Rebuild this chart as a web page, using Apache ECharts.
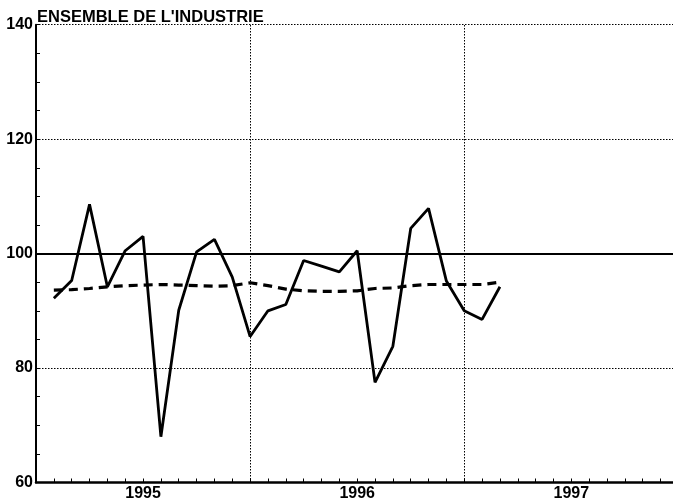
<!DOCTYPE html>
<html><head><meta charset="utf-8">
<script src="https://cdn.jsdelivr.net/npm/echarts@6/dist/echarts.min.js"></script>
<style>html,body{margin:0;padding:0;background:#fff}#c{width:673px;height:504px}</style>
</head><body><div id="c"></div>
<script>
// months counted from start of 1995 (1 = first point)
const months = [1,2,3,4,5,6,7,8,9,10,11,12,13,14,15,16,17,18,19,20,21,22,23,24,25,26];
const production = [92.2,95.3,108.6,94.2,100.5,103.0,68.0,90.1,100.3,102.5,95.9,85.5,
                    90.0,91.1,98.8,97.8,96.8,100.5,77.5,83.8,104.4,107.9,95.2,90.0,88.5,94.2];
const trend = [93.6,93.7,93.9,94.2,94.4,94.5,94.6,94.5,94.4,94.3,94.4,94.9,
               94.4,93.8,93.5,93.4,93.4,93.5,93.9,94.0,94.4,94.6,94.6,94.6,94.6,95.0];
const yearLabelPos = [6,18,30];
const yearLabels = ['1995','1996','1997'];
const yearBoundaries = [12,24];
const referenceLevel = 100;
const titleText = "ENSEMBLE DE L'INDUSTRIE";

const FONT = 'Liberation Sans';
const chart = echarts.init(document.getElementById('c'), null, {renderer:'canvas'});
chart.setOption({
  animation:false,
  backgroundColor:'#fff',
  grid:{left:36, right:0, top:24.7, bottom:21.5, containLabel:false},
  graphic:[{type:'text', left:37, top:9,
    style:{text:titleText, fill:'#000', font:'bold 16.5px "'+FONT+'"'}}],
  xAxis:{type:'value', min:0, max:35.7, interval:1,
    axisLine:{show:true, lineStyle:{color:'#000', width:2.5}},
    axisTick:{show:true, inside:true, length:4, lineStyle:{color:'#000', width:1}},
    splitLine:{show:false},
    axisLabel:{show:true, margin:3, color:'#000', fontFamily:FONT, fontWeight:'bold', fontSize:16,
      showMinLabel:true, showMaxLabel:false,
      formatter:function(v){const i=yearLabelPos.indexOf(Math.round(v)); return (Math.abs(v-Math.round(v))<1e-6 && i>=0)?yearLabels[i]:'';}}
  },
  yAxis:{type:'value', min:60, max:140, interval:20,
    axisLine:{show:true, lineStyle:{color:'#000', width:2}},
    axisTick:{show:true, inside:true, length:4, lineStyle:{color:'#000', width:1}},
    minorTick:{show:true, splitNumber:4, length:4, lineStyle:{color:'#000', width:1}},
    splitLine:{show:true, lineStyle:{color:'#000', width:1, type:[1.5,1.5]}},
    axisLabel:{margin:3, color:'#000', fontFamily:FONT, fontWeight:'bold', fontSize:16}
  },
  series:[
    {type:'line', data:months.map((m,i)=>[m,trend[i]]), symbol:'none', smooth:false,
     lineStyle:{color:'#000', width:3.2, type:[9,6]}, z:3,
     markLine:{silent:true, symbol:'none', label:{show:false}, animation:false,
       data:[
         {yAxis:referenceLevel, lineStyle:{color:'#000', width:2, type:'solid'}},
         ...yearBoundaries.map(b=>({xAxis:b, lineStyle:{color:'#000', width:1, type:[1.5,1.5]}}))
       ]}},
    {type:'line', data:months.map((m,i)=>[m,production[i]]), symbol:'none', smooth:false,
     lineStyle:{color:'#000', width:2.8, type:'solid'}, z:4}
  ]
});
</script></body></html>
